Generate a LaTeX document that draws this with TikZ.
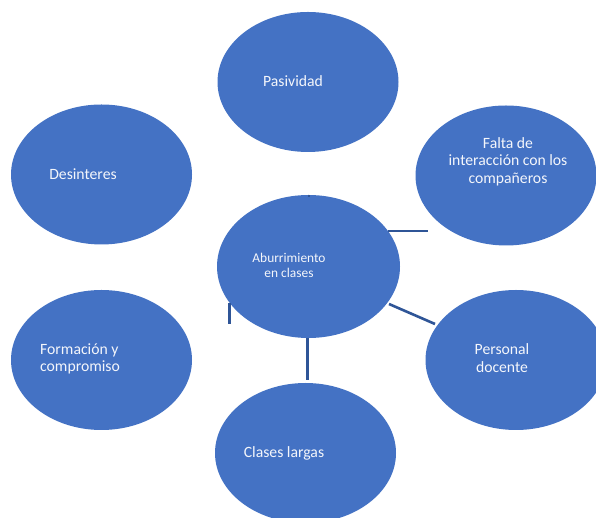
\documentclass[tikz,border=0pt]{standalone}
\usepackage{fontspec}
\setmainfont{Carlito}
\usetikzlibrary{shapes.geometric}
\definecolor{bubble}{HTML}{4472C4}
\definecolor{stub}{HTML}{2F5597}
\definecolor{txt}{HTML}{F4F6FB}
\begin{document}
\begin{tikzpicture}[x=1pt,y=1pt,
  bubble/.style={ellipse,fill=bubble,draw=none,inner sep=0pt,minimum width=181pt,minimum height=140pt},
  lbl/.style={text=txt,font=\fontsize{15.7}{17.6}\selectfont,align=center,inner sep=0pt},
  stubline/.style={draw=stub,line width=2.6pt}]
\useasboundingbox (0,0) rectangle (596,518);
\fill[white] (0,0) rectangle (596,518);
% ellipses
\node[bubble] (pas) at (308,436) {};
\node[bubble] (des) at (101.5,343.5) {};
\node[bubble] (fal) at (506,342.5) {};
\node[bubble,minimum width=183pt,minimum height=143pt] (abu) at (308.5,251.5) {};
\node[bubble] (for) at (101.5,158) {};
\node[bubble] (per) at (516,158) {};
\node[bubble] (cla) at (305.5,65) {};
% texts
\node[lbl] (tpas) at (293,437) {Pasividad};
\node[lbl] (tdes) at (83,344) {Desinteres};
\node[lbl] (tfal) at (508,356.5) {Falta de\\interacción con los\\compañeros};
\node[lbl,font=\fontsize{13.4}{15}\selectfont] (tabu) at (289,252.5) {Aburrimiento\\en clases};
\node[lbl,align=left,anchor=west] (tfor) at (40,159) {Formación y\\compromiso};
\node[lbl] (tper) at (502,160) {Personal\\docente};
\node[lbl] (tcla) at (284,65) {Clases largas};
% connector stubs
\coordinate (c1a) at (309,323);
\coordinate (c1b) at (309,321);
\coordinate (c2a) at (388,287);
\coordinate (c2b) at (428,287);
\coordinate (c3a) at (389,214);
\coordinate (c3b) at (435,194);
\coordinate (c4a) at (307.5,180);
\coordinate (c4b) at (307.5,138);
\coordinate (c5a) at (229.5,215);
\coordinate (c5b) at (229.5,194);
\draw[stubline,line width=1.2pt] (c1a) -- (c1b);
\draw[stubline] (c2a) -- (c2b);
\draw[stubline] (c3a) -- (c3b);
\draw[stubline] (c4a) -- (c4b);
\draw[stubline] (c5a) -- (c5b);
\end{tikzpicture}
\end{document}
